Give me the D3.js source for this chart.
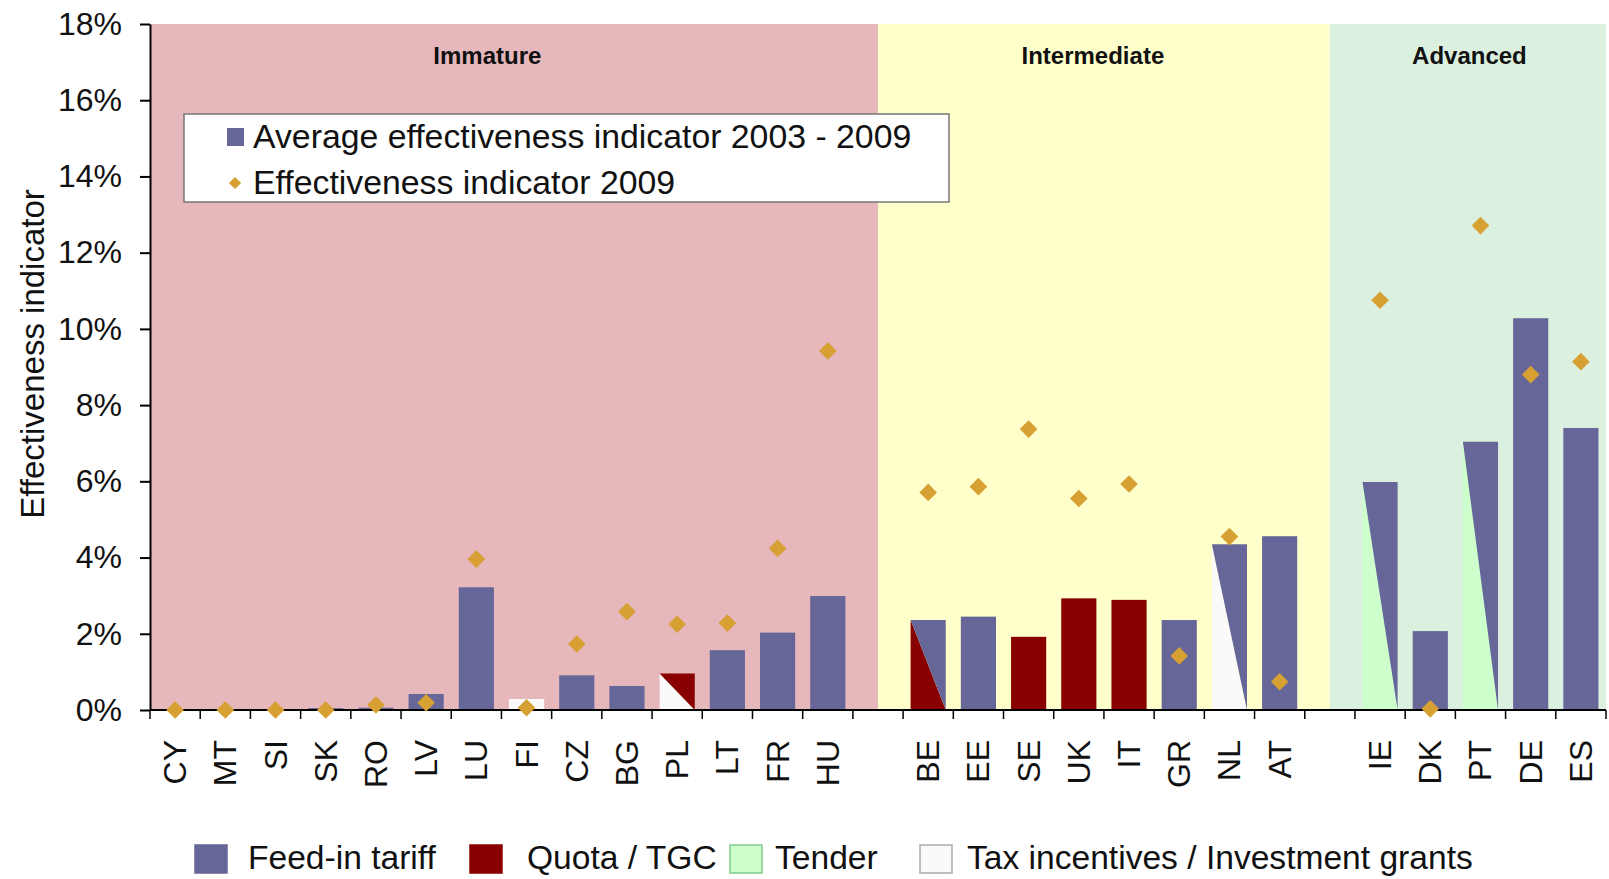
<!DOCTYPE html>
<html><head><meta charset="utf-8">
<script src="https://cdn.jsdelivr.net/npm/d3@7"></script>
<style>
body{margin:0;background:#fff;}
text{font-family:"Liberation Sans",Arial,sans-serif;fill:#111;}
</style>
</head><body><svg id="c" width="1609" height="879"></svg>
<script>
// ---------- data ----------
const immature = ["CY","MT","SI","SK","RO","LV","LU","FI","CZ","BG","PL","LT","FR","HU"];
const intermediate = ["BE","EE","SE","UK","IT","GR","NL","AT"];
const advanced = ["IE","DK","PT","DE","ES"];
const groupNames = ["Immature","Intermediate","Advanced"];
// Average effectiveness indicator 2003 - 2009 (%)
const avgValues = [0,0,0,0.05,0.06,0.42,3.22,0.29,0.91,0.63,0.96,1.57,2.03,2.99,
                   2.36,2.45,1.92,2.93,2.89,2.36,4.35,4.56,
                   5.98,2.07,7.04,10.28,7.40];
// Effectiveness indicator 2009 (%)
const values2009 = [0,0,0,0,0.13,0.19,3.96,0.06,1.73,2.58,2.25,2.28,4.24,9.42,
                    5.71,5.86,7.37,5.55,5.93,1.42,4.55,0.74,
                    10.75,0.03,12.71,8.80,9.14];
// instrument codes: F = feed-in tariff, Q = quota/TGC, T = tender, X = tax incentives
const primaryInstrument = ["F","F","F","F","F","F","F","X","F","F","Q","F","F","F",
                           "F","F","Q","Q","Q","F","F","F",
                           "F","F","F","F","F"];
const secondaryInstrument = [null,null,null,null,null,null,null,null,null,null,"X",null,null,null,
                             "Q",null,null,null,null,null,"X",null,
                             "T",null,"T",null,null];
const instrumentCodes = ["F","Q","T","X"];
const instrumentNames = ["Feed-in tariff","Quota / TGC","Tender","Tax incentives / Investment grants"];
const yTicks = [0,2,4,6,8,10,12,14,16,18];
const seriesNames = ["Average effectiveness indicator 2003 - 2009","Effectiveness indicator 2009"];

// ---------- styles ----------
const instrumentColor = {F:"#666699", Q:"#880000", T:"#CCFFCC", X:"#FAFAFA"};
const instrumentStroke = {F:"#666699", Q:"#880000", T:"#7FCC8A", X:"#AAAAAA"};
const groupBg = ["#E6B7BB","#FFFFCC","#DCF0E0"];
const diamondColor = "#D6A032";

const svg = d3.select("#c");
const countries = immature.concat(intermediate, advanced);
const slots = [...immature, "_gap1", ...intermediate, "_gap2", ...advanced];

const x = d3.scaleBand().domain(slots).range([150,1606]).paddingInner(0.3).paddingOuter(0.15);
const y = d3.scaleLinear().domain([0,18]).range([710,24]);
const step = x.step();
const cx = k => x(k) + x.bandwidth()/2;

// backgrounds
const bounds = [150, cx("_gap1"), cx("_gap2"), 1606];
svg.selectAll("rect.bg").data(groupNames).join("rect").attr("class","bg")
  .attr("x",(d,i)=>bounds[i]).attr("width",(d,i)=>bounds[i+1]-bounds[i])
  .attr("y",y(18)).attr("height",y(0)-y(18)).attr("fill",(d,i)=>groupBg[i]);

// group labels
const groupLabelPos = [6.72, 18.78, 26.28]; // slot units
svg.selectAll("text.grp").data(groupNames).join("text").attr("class","grp")
  .attr("x",(d,i)=>150+groupLabelPos[i]*step).attr("y",64)
  .attr("text-anchor","middle").attr("font-size",24).attr("font-weight","bold")
  .text(d=>d);

// bars
const data = countries.map((c,i)=>({c, avg:avgValues[i], v:values2009[i], p:primaryInstrument[i], s:secondaryInstrument[i]}));
const gBars = svg.append("g");
data.forEach(d=>{
  if (d.avg <= 0) return;
  const x0 = x(d.c), x1 = x0 + x.bandwidth(), yt = y(d.avg), yb = y(0);
  if (!d.s) {
    gBars.append("rect").attr("x",x0).attr("y",yt).attr("width",x1-x0).attr("height",yb-yt)
      .attr("fill",instrumentColor[d.p]);
  } else {
    gBars.append("path").attr("d",`M${x0},${yt}L${x0},${yb}L${x1},${yb}Z`).attr("fill",instrumentColor[d.s]);
    gBars.append("path").attr("d",`M${x0},${yt}L${x1},${yt}L${x1},${yb}Z`).attr("fill",instrumentColor[d.p]);
  }
});

// y axis
const yAxis = d3.axisLeft(y).tickValues(yTicks).tickFormat(d=>d+"%").tickSize(10).tickSizeOuter(0).tickPadding(18);
const gy = svg.append("g").attr("transform","translate(150,0)").call(yAxis);
gy.select(".domain").attr("stroke","#000").attr("stroke-width",2);
gy.selectAll(".tick line").attr("stroke","#000").attr("stroke-width",2);
gy.selectAll(".tick text").attr("font-size",32).attr("fill","#222")
  .attr("font-family","'Liberation Sans',Arial,sans-serif");

// x axis
svg.append("line").attr("x1",150).attr("x2",1606).attr("y1",y(0)).attr("y2",y(0))
  .attr("stroke","#000").attr("stroke-width",2);
const boundaries = d3.range(slots.length+1).map(i=>150+i*step);
svg.selectAll("line.xt").data(boundaries).join("line").attr("class","xt")
  .attr("x1",d=>d).attr("x2",d=>d).attr("y1",y(0)).attr("y2",y(0)+9)
  .attr("stroke","#000").attr("stroke-width",1.5);
svg.selectAll("text.xl").data(countries).join("text").attr("class","xl")
  .attr("transform",d=>`translate(${cx(d)+11},740) rotate(-90)`)
  .attr("text-anchor","end").attr("font-size",32).attr("fill","#222").text(d=>d);

// diamonds
const diamond = d3.symbol().type(d3.symbolSquare).size(155);
svg.selectAll("path.dm").data(data).join("path").attr("class","dm")
  .attr("d",diamond).attr("transform",d=>`translate(${cx(d.c)},${y(d.v)}) rotate(45)`)
  .attr("fill",diamondColor);

// y title
svg.append("text").attr("transform","translate(44,354) rotate(-90)")
  .attr("text-anchor","middle").attr("font-size",33).attr("fill","#222").text("Effectiveness indicator");

// series legend
const lg = svg.append("g");
lg.append("rect").attr("x",184).attr("y",114).attr("width",765).attr("height",88)
  .attr("fill","#fff").attr("stroke","#777").attr("stroke-width",1.5);
lg.append("rect").attr("x",227).attr("y",128).attr("width",17).attr("height",18).attr("fill",instrumentColor.F);
lg.append("path").attr("d",d3.symbol().type(d3.symbolSquare).size(75))
  .attr("transform","translate(235,183) rotate(45)").attr("fill",diamondColor);
lg.selectAll("text").data(seriesNames).join("text")
  .attr("x",253).attr("y",(d,i)=>148+i*46).attr("font-size",33.8).attr("fill","#222").text(d=>d);

// instrument legend
const legX = [195,470,730,920];
const legTX = [248,527,775,967];
const il = svg.append("g");
il.selectAll("rect").data(instrumentCodes).join("rect")
  .attr("x",(d,i)=>legX[i]).attr("y",845).attr("width",32).attr("height",28)
  .attr("fill",d=>instrumentColor[d]).attr("stroke",d=>instrumentStroke[d]).attr("stroke-width",1.5);
il.selectAll("text").data(instrumentNames).join("text")
  .attr("x",(d,i)=>legTX[i]).attr("y",869).attr("font-size",33.6).attr("fill","#222").text(d=>d);
</script>
</body></html>
